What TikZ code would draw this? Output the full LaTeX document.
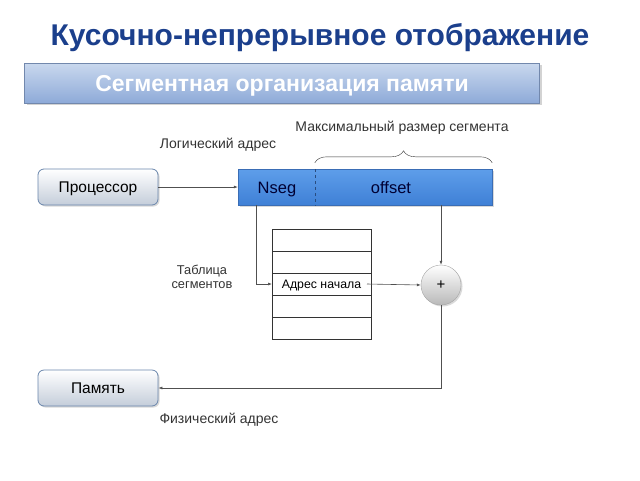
\documentclass[tikz,border=0pt]{standalone}
\usepackage{fontspec}
\setmainfont{Liberation Sans}
\usetikzlibrary{arrows.meta,positioning,shadows,decorations.pathreplacing,calc}
\definecolor{titleblue}{HTML}{1B3F8C}
\definecolor{bannertop}{HTML}{C9D8EE}
\definecolor{bannerbottom}{HTML}{8EAAD8}
\definecolor{boxedge}{HTML}{6A86AC}
\definecolor{boxbottom}{HTML}{C4CDDA}
\definecolor{bartop}{HTML}{5E9EEA}
\definecolor{barbottom}{HTML}{3F80D6}
\definecolor{baredge}{HTML}{3A6DB5}
\definecolor{lineclr}{HTML}{505050}

\begin{document}
\begin{tikzpicture}[
  x=1pt, y=-1pt,
  title/.style={font=\fontsize{30}{34}\selectfont\bfseries, text=titleblue},
  banner/.style={rectangle, minimum width=515pt, minimum height=40pt, text height=16.5pt, text depth=0pt, top color=bannertop, bottom color=bannerbottom, draw=bannerbottom!80!black, drop shadow={shadow xshift=2pt, shadow yshift=-2pt, opacity=0.35}, font=\fontsize{23}{26}\selectfont\bfseries, text=white},
  unit/.style={rectangle, rounded corners=6pt, minimum width=120pt, minimum height=36pt, text height=11.2pt, text depth=0pt, top color=white, bottom color=boxbottom, draw=boxedge, thick, drop shadow={shadow xshift=1.5pt, shadow yshift=-1.5pt, opacity=0.3}, font=\fontsize{15.5}{18}\selectfont},
  addrbar/.style={rectangle, minimum width=254pt, minimum height=36pt, top color=bartop, bottom color=barbottom, draw=baredge, drop shadow={shadow xshift=1.5pt, shadow yshift=-1.5pt, opacity=0.3}},
  field/.style={font=\fontsize{16.5}{19}\selectfont, text height=12pt, text depth=0pt, text=black!80!blue},
  segrow/.style={rectangle, draw=black!80, minimum width=99pt, minimum height=22pt, text height=8.9pt, text depth=0pt, outer sep=0pt, font=\fontsize{12.3}{14}\selectfont},
  adder/.style={circle, minimum size=40pt, top color=white, bottom color=gray!55, draw=gray!70, drop shadow={shadow xshift=1.5pt, shadow yshift=-1.5pt, opacity=0.3}, font=\fontsize{15}{18}\selectfont},
  label/.style={font=\fontsize{14}{16.5}\selectfont, text=black!80},
  arrow/.style={-{Latex[length=4pt,width=3pt]}, draw=lineclr, semithick}
]
\useasboundingbox (0,0) rectangle (640,480);
\node[title] (head) at (320,38) {Кусочно-непрерывное отображение};
\node[banner] (band) at (282,83) {Сегментная организация памяти};

% processor, logical address, memory
\node[unit] (cpu) at (98,187) {Процессор};
\node[unit] (mem) at (98,388) {Память};
\node[addrbar] (addr) at (365,187) {};
\draw[dashed, baredge!70!black] ($(addr.north west)+(77,0)$) -- ($(addr.south west)+(77,0)$);
\node[field] (nseg) at (277,187) {Nseg};
\node[field] (offs) at (391,187) {offset};

% labels
\node[label] (loglbl) at (218,145) {Логический адрес};
\node[label] (maxlbl) at (402,128) {Максимальный размер сегмента};
\node[label] (physlbl) at (219,420) {Физический адрес};
\node[label, align=center, font=\fontsize{12.8}{14}\selectfont] (tablbl) at (202,277) {Таблица\\сегментов};
\draw[decorate, decoration={brace, amplitude=12pt}, draw=black!80] ($(addr.north west)+(77,-6)$) -- ($(addr.north east)+(0,-6)$);

% segment table
\node[segrow] (r1) at (321.5,240) {};
\node[segrow, below=0pt of r1] (r2) {};
\node[segrow, below=0pt of r2] (r3) {Адрес начала};
\node[segrow, below=0pt of r3] (r4) {};
\node[segrow, below=0pt of r4] (r5) {};

\node[adder] (sum) at (441,285) {+};

\coordinate (nsegout) at ($(addr.south west)+(18,0)$);
\coordinate (offout) at (sum.north |- addr.south);
\coordinate (startout) at ($(r3.east)+(-4,0)$);

\draw[arrow] (cpu) -- (addr);
\draw[arrow] (nsegout) |- (r3.west);
\draw[arrow] (offout) -- (sum.north);
\draw[arrow] (startout) -- (sum.west);
\draw[arrow] (sum.south) |- (mem.east);
\end{tikzpicture}
\end{document}
